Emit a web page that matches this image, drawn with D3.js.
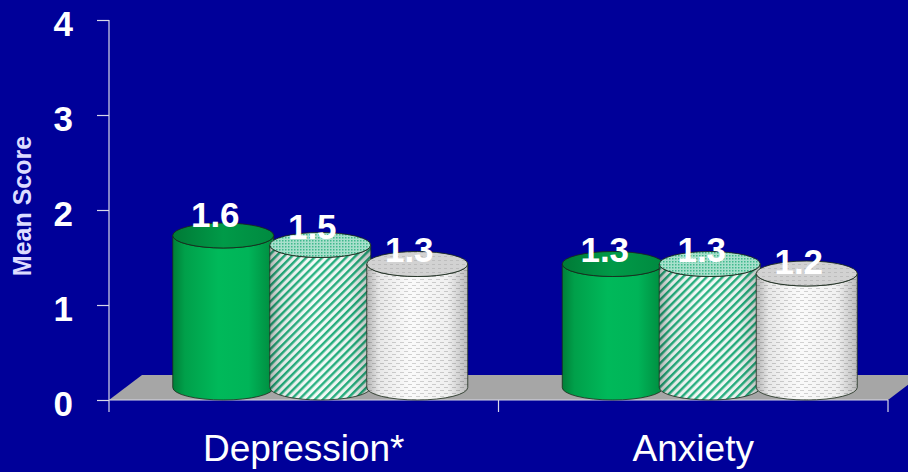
<!DOCTYPE html>
<html>
<head>
<meta charset="utf-8">
<script src="https://cdn.jsdelivr.net/npm/d3@7"></script>
<style>
  html, body { margin: 0; padding: 0; background: #000099; }
  svg { display: block; }
</style>
</head>
<body>
<svg id="chart" width="908" height="472"></svg>
<script>
// ---- data ----
const categories = ["Depression*", "Anxiety"];
const seriesKeys = ["solid", "striped", "dotted"];
const depressionValues = [1.6, 1.5, 1.3];
const anxietyValues = [1.3, 1.3, 1.2];
const yTickValues = [0, 1, 2, 3, 4];
const yAxisTitle = "Mean Score";

const valuesByCategory = [depressionValues, anxietyValues];

// ---- layout ----
const W = 908, H = 472;
const plotLeft = 109, plotRight = 888, plotTop = 20, plotBottom = 400;
const depthX = 33, depthY = 25;          // floor depth
const midX = depthX / 2, midY = depthY / 2;
const rx = 50.5, ry = 12.5;

const svg = d3.select("#chart");
svg.append("rect").attr("width", W).attr("height", H).attr("fill", "#000099");

const y = d3.scaleLinear().domain([0, 4]).range([plotBottom, plotTop]);
const x0 = d3.scaleBand().domain(categories).range([plotLeft, plotRight]).padding(0);
const x1 = d3.scaleBand().domain(seriesKeys).range([-145.5, 145.5]).padding(0);
// label baseline placement (labels in the original sit slightly compressed)
const labelY = d3.scaleLinear().domain([0, 4]).range([414, -54]);

// ---- defs ----
const defs = svg.append("defs");

function bodyGrad(id, stops) {
  const g = defs.append("linearGradient").attr("id", id)
    .attr("x1", "0%").attr("x2", "100%").attr("y1", "0%").attr("y2", "0%");
  stops.forEach(s => g.append("stop").attr("offset", s[0]).attr("stop-color", s[1]).attr("stop-opacity", s[2] === undefined ? 1 : s[2]));
}
bodyGrad("gGreen", [["0%", "#007f38"], ["12%", "#00a04a"], ["45%", "#00b95a"], ["75%", "#00b458"], ["100%", "#008a3e"]]);
bodyGrad("gTopGreen", [["0%", "#007a36"], ["50%", "#009a48"], ["100%", "#008a40"]]);
bodyGrad("gShade", [["0%", "#000", 0.28], ["12%", "#000", 0.08], ["45%", "#fff", 0.05], ["80%", "#000", 0.04], ["100%", "#000", 0.25]]);

// striped pattern
const pStripe = defs.append("pattern").attr("id", "pStripe")
  .attr("patternUnits", "userSpaceOnUse").attr("width", 5.6).attr("height", 10)
  .attr("patternTransform", "rotate(45)");
pStripe.append("rect").attr("width", 5.6).attr("height", 10).attr("fill", "#f4fbf8");
pStripe.append("rect").attr("width", 2.4).attr("height", 10).attr("fill", "#22b07e");

// striped top: fine cross pattern
const pStripeTop = defs.append("pattern").attr("id", "pStripeTop")
  .attr("patternUnits", "userSpaceOnUse").attr("width", 3).attr("height", 3);
pStripeTop.append("rect").attr("width", 3).attr("height", 3).attr("fill", "#a8e0cc");
pStripeTop.append("rect").attr("width", 1.5).attr("height", 1.5).attr("fill", "#3fb98c");

// dotted pattern
const pDot = defs.append("pattern").attr("id", "pDot")
  .attr("patternUnits", "userSpaceOnUse").attr("width", 8).attr("height", 6);
pDot.append("rect").attr("width", 8).attr("height", 6).attr("fill", "#fafafa");
pDot.append("rect").attr("x", 0).attr("y", 0).attr("width", 4).attr("height", 1).attr("fill", "#cfcfcf");
pDot.append("rect").attr("x", 4).attr("y", 3).attr("width", 4).attr("height", 1).attr("fill", "#cfcfcf");

const pDotTop = defs.append("pattern").attr("id", "pDotTop")
  .attr("patternUnits", "userSpaceOnUse").attr("width", 6).attr("height", 4);
pDotTop.append("rect").attr("width", 6).attr("height", 4).attr("fill", "#d2d2d2");
pDotTop.append("rect").attr("width", 3).attr("height", 1).attr("fill", "#bdbdbd");

const styles = {
  solid:   { body: "url(#gGreen)", top: "url(#gTopGreen)", shade: false },
  striped: { body: "url(#pStripe)", top: "url(#pStripeTop)", shade: true },
  dotted:  { body: "url(#pDot)", top: "url(#pDotTop)", shade: true }
};

// ---- floor ----
svg.append("polygon")
  .attr("points", [
    [plotLeft, y(0)], [plotLeft + depthX, y(0) - depthY],
    [plotRight + depthX, y(0) - depthY], [plotRight, y(0)]
  ].map(p => p.join(",")).join(" "))
  .attr("fill", "#a6a6a6");

// ---- axes ----
const axisColor = "#d8d8e8";
const yAxis = svg.append("g").attr("transform", `translate(${plotLeft},0)`)
  .call(d3.axisLeft(y).tickValues(yTickValues).tickSize(12).tickFormat(d3.format("d")));
yAxis.select(".domain").remove();
yAxis.selectAll(".tick line").attr("stroke", axisColor).attr("stroke-width", 1.2);
yAxis.selectAll(".tick text")
  .attr("x", -36).attr("dy", null).attr("y", 15)
  .attr("fill", "#ffffff").attr("font-family", "Liberation Sans, Arial, sans-serif")
  .attr("font-weight", "bold").attr("font-size", 35).attr("text-anchor", "end");
svg.append("line").attr("x1", plotLeft).attr("x2", plotLeft)
  .attr("y1", plotTop).attr("y2", plotBottom + 12)
  .attr("stroke", axisColor).attr("stroke-width", 1.2);

// x axis line + category separators
svg.append("line").attr("x1", plotLeft).attr("x2", plotRight)
  .attr("y1", y(0)).attr("y2", y(0)).attr("stroke", axisColor).attr("stroke-width", 1.2);
const sepX = categories.map(c => x0(c)).concat([x0(categories[categories.length - 1]) + x0.bandwidth()]);
svg.selectAll("line.sep").data(sepX.slice(1)).join("line").attr("class", "sep")
  .attr("x1", d => d).attr("x2", d => d)
  .attr("y1", y(0)).attr("y2", y(0) + 12)
  .attr("stroke", axisColor).attr("stroke-width", 1.2);

// category labels
svg.selectAll("text.cat").data(categories).join("text").attr("class", "cat")
  .attr("x", d => x0(d) + x0.bandwidth() / 2)
  .attr("y", 461)
  .attr("text-anchor", "middle")
  .attr("fill", "#ffffff").attr("font-family", "Liberation Sans, Arial, sans-serif")
  .attr("font-size", 37)
  .text(d => d);

// y axis title
svg.append("text")
  .attr("transform", `translate(31,206) rotate(-90)`)
  .attr("text-anchor", "middle")
  .attr("fill", "#dcdcff").attr("font-family", "Liberation Sans, Arial, sans-serif")
  .attr("font-weight", "bold").attr("font-size", 25)
  .text(yAxisTitle);

// ---- cylinders ----
const bars = [];
categories.forEach((c, ci) => {
  seriesKeys.forEach((k, si) => {
    bars.push({ cat: c, key: k, value: valuesByCategory[ci][si] });
  });
});

const gBars = svg.append("g");
bars.forEach(b => {
  const cx = x0(b.cat) + x0.bandwidth() / 2 + x1(b.key) + x1.bandwidth() / 2 + midX;
  const yTop = y(b.value) - midY;
  const yBot = y(0) - midY;
  const st = styles[b.key];
  const g = gBars.append("g");
  const bodyPath = `M${cx - rx},${yTop} L${cx - rx},${yBot} A${rx},${ry} 0 0 0 ${cx + rx},${yBot} L${cx + rx},${yTop} A${rx},${ry} 0 0 1 ${cx - rx},${yTop} Z`;
  g.append("path").attr("d", bodyPath).attr("fill", st.body);
  if (st.shade) g.append("path").attr("d", bodyPath).attr("fill", "url(#gShade)");
  g.append("path").attr("d", bodyPath).attr("fill", "none")
    .attr("stroke", "#1a2a1a").attr("stroke-width", 1).attr("stroke-opacity", 0.8);
  g.append("ellipse").attr("cx", cx).attr("cy", yTop).attr("rx", rx).attr("ry", ry)
    .attr("fill", st.top).attr("stroke", "#1a2a1a").attr("stroke-width", 1).attr("stroke-opacity", 0.85);
  b.cx = cx; b.yTop = yTop;
});

// value labels
svg.selectAll("text.val").data(bars).join("text").attr("class", "val")
  .attr("x", d => d.cx - 8)
  .attr("y", d => labelY(d.value))
  .attr("text-anchor", "middle")
  .attr("fill", "#ffffff").attr("font-family", "Liberation Sans, Arial, sans-serif")
  .attr("font-weight", "bold").attr("font-size", 35)
  .text(d => d3.format(".1f")(d.value));
</script>
</body>
</html>
